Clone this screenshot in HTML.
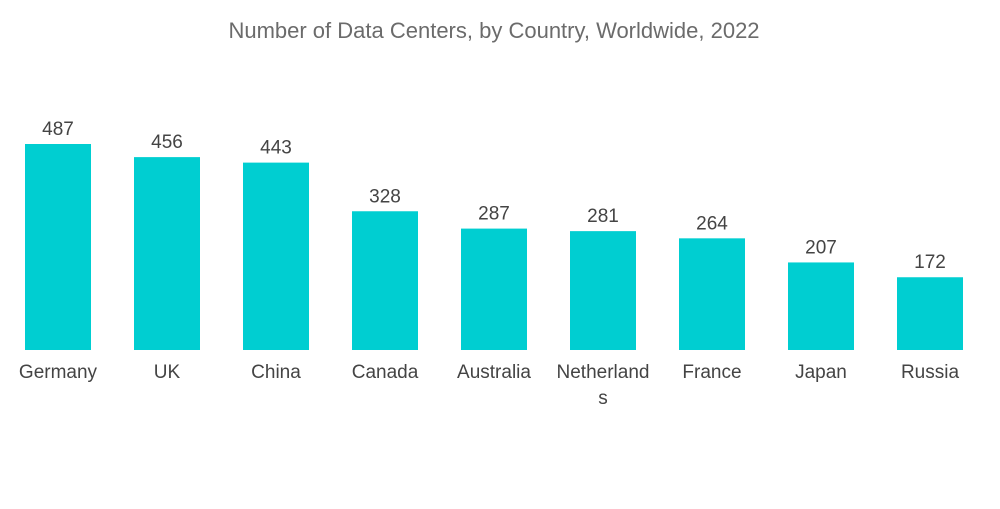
<!DOCTYPE html>
<html><head><meta charset="utf-8"><style>
body{margin:0;background:#fff;}
svg text{font-family:"Liberation Sans",sans-serif;}
</style></head><body>
<svg width="1000" height="504" viewBox="0 0 1000 504">
<text x="494" y="38" text-anchor="middle" font-size="22" fill="#6b6b6b">Number of Data Centers, by Country, Worldwide, 2022</text>
<g id="bars"></g>
</svg>
<script>
const categories=["Germany","UK","China","Canada","Australia","Netherlands","France","Japan","Russia"];
const values=[487,456,443,328,287,281,264,207,172];
const ns="http://www.w3.org/2000/svg";
const g=document.getElementById('bars');
const baseY=350, scale=206/487;
function xPos(i){return 25+i*109;}
function yPos(v){return baseY-v*scale;}
categories.forEach((c,i)=>{
  const x=xPos(i), y=yPos(values[i]);
  const r=document.createElementNS(ns,'rect');
  r.setAttribute('x',x);r.setAttribute('y',y);r.setAttribute('width',66);r.setAttribute('height',baseY-y);r.setAttribute('fill','#00ced1');
  
  
  g.appendChild(r);
  const t=document.createElementNS(ns,'text');
  t.setAttribute('x',x+33);t.setAttribute('y',y-9);t.setAttribute('text-anchor','middle');t.setAttribute('font-size','19');t.setAttribute('fill','#444');
  t.textContent=values[i];
  
  
  g.appendChild(t);
  const lines=c==="Netherlands"?["Netherland","s"]:[c];
  lines.forEach((ln,j)=>{
    const l=document.createElementNS(ns,'text');
    l.setAttribute('x',x+33);l.setAttribute('y',378+j*26);l.setAttribute('text-anchor','middle');l.setAttribute('font-size','19');l.setAttribute('fill','#444');
    l.textContent=ln;
    
    
    g.appendChild(l);
  });
});
</script>
</body></html>
